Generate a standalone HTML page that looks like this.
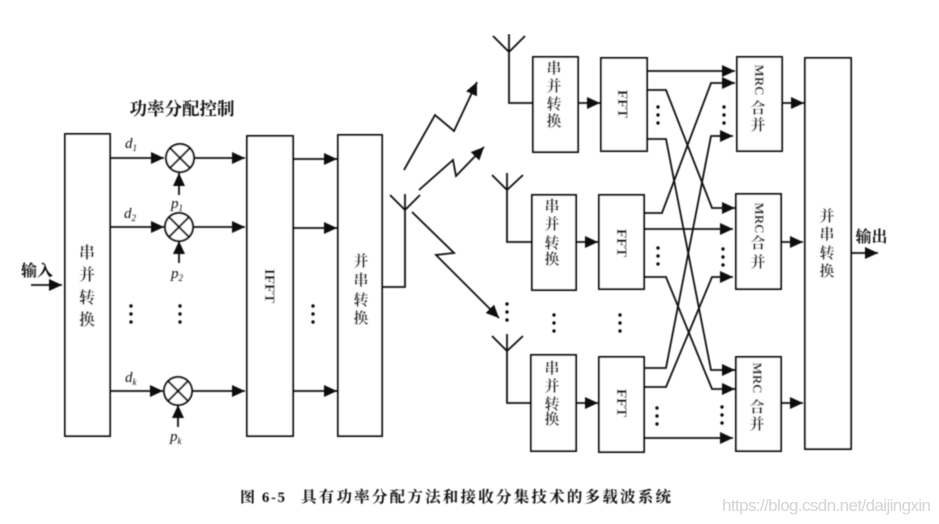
<!DOCTYPE html>
<html><head><meta charset="utf-8">
<style>
html,body{margin:0;padding:0;background:#fff;width:939px;height:524px;overflow:hidden}
svg{display:block}
text{fill:#111}
.cn{font-family:"Liberation Serif","Noto Serif CJK SC",serif;font-size:14px;font-weight:700;text-anchor:middle}
.la{font-family:"Liberation Serif",serif;font-style:italic;font-size:15px}
.en{font-family:"Liberation Serif",serif;font-size:15px;font-weight:700;text-anchor:middle}
.b{fill:#fff;stroke:#111;stroke-width:2}
.l{fill:none;stroke:#111;stroke-width:1.8}
.d{fill:#111}
</style></head><body>
<svg width="939" height="524" viewBox="0 0 939 524" xmlns="http://www.w3.org/2000/svg">
<defs>
<marker id="a" markerUnits="userSpaceOnUse" markerWidth="14" markerHeight="14" refX="13" refY="6" orient="auto"><path d="M0 0L13 6L0 12z" fill="#111"/></marker>
<filter id="s" x="0" y="0" width="100%" height="100%"><feGaussianBlur stdDeviation="0.5"/></filter>
<g id="dots"><circle cx="0" cy="0" r="1.7" class="d"/><circle cx="0" cy="8" r="1.7" class="d"/><circle cx="0" cy="16" r="1.7" class="d"/></g>
<g id="mul"><circle r="14" fill="#fff" stroke="#111" stroke-width="2"/><path d="M-10-10L10 10M10-10L-10 10" stroke="#111" stroke-width="2"/></g>
</defs>
<g filter="url(#s)">
<!-- left boxes -->
<rect class="b" x="65" y="134" width="45" height="302"/>
<rect class="b" x="247" y="136" width="46" height="300"/>
<rect class="b" x="338" y="135" width="44" height="301"/>
<!-- input -->
<path class="l" d="M31 285H62" marker-end="url(#a)"/>
<text class="cn" x="37" y="276" style="font-size:16px">输入</text>
<!-- column text -->
<text class="cn" x="87" y="258" style="font-size:16px">串</text>
<text class="cn" x="87" y="280" style="font-size:16px">并</text>
<text class="cn" x="87" y="303" style="font-size:16px">转</text>
<text class="cn" x="87" y="325" style="font-size:16px">换</text>
<text class="cn" x="361" y="266" style="font-size:15px">并</text>
<text class="cn" x="361" y="285" style="font-size:15px">串</text>
<text class="cn" x="361" y="305" style="font-size:15px">转</text>
<text class="cn" x="361" y="323" style="font-size:15px">换</text>
<text class="en" transform="translate(265,286) rotate(90)">IFFT</text>
<text class="cn" x="182" y="115" style="font-size:17.5px">功率分配控制</text>
<!-- multipliers -->
<use href="#mul" x="180" y="158"/>
<use href="#mul" x="179" y="227"/>
<use href="#mul" x="178" y="391"/>
<path class="l" d="M110 158H164" marker-end="url(#a)"/>
<path class="l" d="M110 227H164" marker-end="url(#a)"/>
<path class="l" d="M110 391H163" marker-end="url(#a)"/>
<path class="l" d="M194 158H245" marker-end="url(#a)"/>
<path class="l" d="M193 227H245" marker-end="url(#a)"/>
<path class="l" d="M192 391H245" marker-end="url(#a)"/>
<path class="l" d="M179 195V173" marker-end="url(#a)"/>
<path class="l" d="M179 263V241" marker-end="url(#a)"/>
<path class="l" d="M178 427V405" marker-end="url(#a)"/>
<path class="l" d="M293 159H337" marker-end="url(#a)"/>
<path class="l" d="M293 228H337" marker-end="url(#a)"/>
<path class="l" d="M293 391H337" marker-end="url(#a)"/>
<text class="la" x="125" y="148">d<tspan font-size="9" dy="3">1</tspan></text>
<text class="la" x="124" y="218">d<tspan font-size="9" dy="3">2</tspan></text>
<text class="la" x="125" y="382">d<tspan font-size="9" dy="3">k</tspan></text>
<text class="la" x="171" y="208">p<tspan font-size="9" dy="3">1</tspan></text>
<text class="la" x="171" y="278">p<tspan font-size="9" dy="3">2</tspan></text>
<text class="la" x="170" y="441">p<tspan font-size="9" dy="3">k</tspan></text>
<use href="#dots" x="131" y="306"/><use href="#dots" x="180" y="306"/><use href="#dots" x="313" y="306"/>
<!-- tx antenna -->
<path class="l" d="M382 287H405V194M390 195L405 210L420 195"/>
<path class="l" d="M404 170L435 115L454 131L477 82" marker-end="url(#a)"/>
<path class="l" d="M419 190L453 160L456 176L484 147" marker-end="url(#a)"/>
<path class="l" d="M412 212L454 253L436 255L499 318" marker-end="url(#a)"/>
<!-- rx antennas -->
<path class="l" d="M533 103H509V34M493 36L509 52L525 36"/>
<path class="l" d="M532 242H507V173M492 175L507 190L523 175"/>
<path class="l" d="M531 403H507V334M492 336L507 351L523 336"/>
<!-- rx boxes -->
<rect class="b" x="533" y="57" width="45" height="95"/>
<rect class="b" x="601" y="58" width="46" height="93"/>
<rect class="b" x="532" y="195" width="44" height="95"/>
<rect class="b" x="599" y="195" width="45" height="94"/>
<rect class="b" x="531" y="355" width="45" height="96"/>
<rect class="b" x="599" y="357" width="45" height="95"/>
<path class="l" d="M578 103H600" marker-end="url(#a)"/>
<path class="l" d="M576 242H598" marker-end="url(#a)"/>
<path class="l" d="M576 403H598" marker-end="url(#a)"/>
<g>
<text class="cn" x="554" y="73" style="font-size:15px">串</text><text class="cn" x="554" y="91" style="font-size:15px">并</text><text class="cn" x="554" y="109" style="font-size:15px">转</text><text class="cn" x="554" y="126" style="font-size:15px">换</text>
<text class="cn" x="552" y="211" style="font-size:15px">串</text><text class="cn" x="552" y="229" style="font-size:15px">并</text><text class="cn" x="552" y="248" style="font-size:15px">转</text><text class="cn" x="552" y="264" style="font-size:15px">换</text>
<text class="cn" x="552" y="373" style="font-size:15px">串</text><text class="cn" x="552" y="391" style="font-size:15px">并</text><text class="cn" x="552" y="409" style="font-size:15px">转</text><text class="cn" x="552" y="424" style="font-size:15px">换</text>
</g>
<text class="en" transform="translate(618,104) rotate(90)">FFT</text>
<text class="en" transform="translate(617,243) rotate(90)">FFT</text>
<text class="en" transform="translate(617,403) rotate(90)">FFT</text>
<use href="#dots" x="658" y="107"/><use href="#dots" x="658" y="248"/><use href="#dots" x="657" y="408"/>
<use href="#dots" x="507" y="304"/><use href="#dots" x="554" y="315"/><use href="#dots" x="620" y="315"/>
<use href="#dots" x="724" y="107"/><use href="#dots" x="723" y="249"/><use href="#dots" x="722" y="407"/>
<!-- crossing lines -->
<path class="l" d="M647 71H735" marker-end="url(#a)"/>
<path class="l" d="M647 90H666L712 208H735" marker-end="url(#a)"/>
<path class="l" d="M647 139H666L711 370H735" marker-end="url(#a)"/>
<path class="l" d="M644 213H662L711 83H735" marker-end="url(#a)"/>
<path class="l" d="M644 229H733" marker-end="url(#a)"/>
<path class="l" d="M644 277H666L712 389H735" marker-end="url(#a)"/>
<path class="l" d="M644 368H666L711 136H733" marker-end="url(#a)"/>
<path class="l" d="M644 387H666L712 277H733" marker-end="url(#a)"/>
<path class="l" d="M644 438H733" marker-end="url(#a)"/>
<!-- MRC -->
<rect class="b" x="737" y="57" width="45" height="94"/>
<rect class="b" x="736" y="194" width="45" height="95"/>
<rect class="b" x="736" y="357" width="45" height="94"/>
<text class="en" transform="translate(755,80) rotate(90)" style="font-size:13px">MRC</text>
<text class="cn" x="758" y="113" style="font-size:15px">合</text><text class="cn" x="758" y="130" style="font-size:15px">并</text>
<text class="en" transform="translate(755,218) rotate(90)" style="font-size:13px">MRC</text>
<text class="cn" x="758" y="248" style="font-size:15px">合</text><text class="cn" x="758" y="267" style="font-size:15px">并</text>
<text class="en" transform="translate(753,378) rotate(90)" style="font-size:13px">MRC</text>
<text class="cn" x="757" y="412" style="font-size:15px">合</text><text class="cn" x="757" y="429" style="font-size:15px">并</text>
<path class="l" d="M782 103H804" marker-end="url(#a)"/>
<path class="l" d="M781 242H803" marker-end="url(#a)"/>
<path class="l" d="M781 403H803" marker-end="url(#a)"/>
<!-- big box -->
<rect class="b" x="805" y="58" width="46" height="391"/>
<text class="cn" x="827" y="221" style="font-size:15px">并</text>
<text class="cn" x="827" y="239" style="font-size:15px">串</text>
<text class="cn" x="827" y="258" style="font-size:15px">转</text>
<text class="cn" x="827" y="276" style="font-size:15px">换</text>
<path class="l" d="M851 253H878" marker-end="url(#a)"/>
<text class="cn" x="871.5" y="242" style="font-size:16px">输出</text>
<!-- caption -->
<text x="240" y="502" style="font-family:'Liberation Serif','Noto Serif CJK SC',serif;font-size:15px;font-weight:700" textLength="45">图 6-5</text>
<text x="301" y="502" style="font-family:'Liberation Serif','Noto Serif CJK SC',serif;font-size:15.5px;font-weight:700" textLength="370">具有功率分配方法和接收分集技术的多载波系统</text>
</g>
<text x="722" y="511" style="font-family:'Liberation Sans',sans-serif;font-size:17px;fill:#d4d4d4" textLength="209">https://blog.csdn.net/daijingxin</text>
</svg>
</body></html>
